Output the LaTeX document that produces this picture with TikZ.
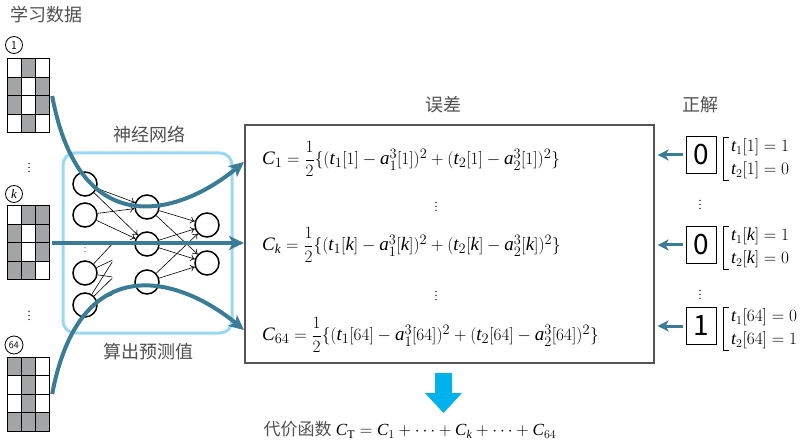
\documentclass[tikz,border=0pt]{standalone}
\usepackage{amsmath}
\usepackage{fontspec}
\setmainfont{Liberation Serif}
\newfontfamily\cjk{Noto Sans CJK SC}
\newfontfamily\digitfont{Noto Sans CJK SC}
\usetikzlibrary{arrows.meta,calc}
\definecolor{teal1}{HTML}{3A7C95}
\definecolor{netblue}{HTML}{99D8F3}
\definecolor{cellgray}{HTML}{A3A4A6}
\definecolor{downblue}{HTML}{00B2EB}
\definecolor{txtgray}{HTML}{505050}
\definecolor{boxgray}{HTML}{555555}
\newcommand\vi[1]{\textit{#1}}
% #1 name, #2 x0, #3 y0, #4 list of 12 cells (1 = gray)
\newcommand\pixgrid[4]{%
  \node[gridbox] (#1) at ({#2+21.5},{#3+37}) {};
  \foreach \v [count=\i from 0] in {#4} {
    \pgfmathtruncatemacro\cc{mod(\i,3)}
    \pgfmathtruncatemacro\rr{div(\i,3)}
    \pgfmathsetmacro\xa{#2+\cc*14.333}
    \pgfmathsetmacro\ya{#3+\rr*18.5}
    \ifnum\v=1
      \draw[gridline, fill=cellgray] (\xa,\ya) rectangle ++(14.333,18.5);
    \else
      \draw[gridline, fill=white] (\xa,\ya) rectangle ++(14.333,18.5);
    \fi
  }
}
\begin{document}
\begin{tikzpicture}[x=1pt,y=-1pt,
  lab/.style={font=\cjk\fontsize{18}{20}\selectfont, text=txtgray, inner sep=0pt},
  gridbox/.style={draw=none, minimum width=43pt, minimum height=74pt, inner sep=0pt},
  gridline/.style={draw=black, line width=1pt},
  circlab/.style={circle, draw=black, line width=0.8pt, minimum size=17pt, inner sep=0pt},
  neuron/.style={circle, draw=black, line width=1.5pt, minimum size=24pt, inner sep=0pt},
  nnedge/.style={line width=0.6pt, -{To[length=4.5pt,width=7pt]}},
  nnstub/.style={line width=0.6pt},
  netbox/.style={draw=netblue, line width=3pt, rounded corners=12pt, minimum width=169pt, minimum height=180pt, inner sep=0pt},
  fbox/.style={draw=boxgray, line width=1.2pt, minimum width=409pt, minimum height=238pt, inner sep=0pt},
  formula/.style={anchor=west, inner sep=0pt, font=\fontsize{19}{21}\selectfont},
  digitbox/.style={draw=black, line width=1pt, minimum width=30pt, minimum height=37pt, inner sep=0pt, font=\digitfont\fontsize{28}{28}\selectfont},
  answer/.style={anchor=west, align=left, inner sep=1pt, font=\fontsize{18}{23}\selectfont},
  bigarrow/.style={draw=teal1, line width=4pt, -{Stealth[length=15pt,width=14pt,inset=4pt]}},
  smallarrow/.style={draw=teal1, line width=3pt, -{Stealth[length=11pt,width=11pt,inset=3pt]}},
  dotsn/.style={inner sep=0pt, font=\fontsize{12}{12}\selectfont}
]
\useasboundingbox (0,0) rectangle (805,443);

% labels
\node[lab] (datalab) at (46,15) {学习数据};
\node[lab] (netlab) at (149,135) {神经网络};
\node[lab] (predlab) at (148,352) {算出预测值};
\node[lab] (errlab) at (443,105) {误差};
\node[lab] (anslab) at (700,105) {正解};

% learning data grids
\node[circlab, font=\sffamily\fontsize{12}{12}\selectfont] (n1) at (14,45) {1};
\pixgrid{g1}{7}{59}{0,1,0,1,0,1,1,0,1,0,1,0}
\node[dotsn] (ld1) at (29,165) {$\vdots$};
\node[circlab, font=\fontsize{13}{13}\selectfont] (nk) at (14,194) {\vi{k}};
\pixgrid{gk}{7}{206}{0,1,1,1,0,1,1,0,1,1,1,0}
\node[dotsn] (ld2) at (29,313) {$\vdots$};
\node[circlab, minimum size=18pt, font=\sffamily\fontsize{10}{10}\selectfont] (n64) at (14,345) {64};
\pixgrid{g64}{7}{357}{1,1,0,0,1,0,0,1,0,1,1,1}

% network
\node[netbox] (net) at (147.5,243) {};
\node[neuron] (i1) at (85,184) {};
\node[neuron] (i2) at (85,215) {};
\node[dotsn, font=\fontsize{8}{8}\selectfont] (idots) at (85,245) {$\vdots$};
\node[neuron] (i4) at (85,273) {};
\node[neuron] (i5) at (85,305) {};
\node[neuron] (h1) at (147,207) {};
\node[neuron] (h2) at (147,244) {};
\node[neuron] (h3) at (147,282) {};
\node[neuron] (o1) at (207,225) {};
\node[neuron] (o2) at (207,263) {};
\foreach \a in {i1,i2} \foreach \b in {h1,h2} \draw[nnedge] (\a) -- (\b);
\foreach \a in {h1,h2,h3} \foreach \b in {o1,o2} \draw[nnedge] (\a) -- (\b);
\foreach \a in {i4,i5} \foreach \b in {h1,h2,h3} \draw[nnstub] (\a) -- ($(\a)!0.44!(\b)$);

% formula box
\node[fbox] (fbox) at (449.5,244) {};
\node[formula] (f1) at (262,159) {$\vi{C}_1=\dfrac{1}{2}\{(\vi{t}_1[1]-\vi{a}_1^3[1])^2+(\vi{t}_2[1]-\vi{a}_2^3[1])^2\}$};
\node[dotsn] (fd1) at (436,204) {$\vdots$};
\node[formula] (fk) at (262,245) {$\vi{C}_{\vi{k}}=\dfrac{1}{2}\{(\vi{t}_1[\vi{k}]-\vi{a}_1^3[\vi{k}])^2+(\vi{t}_2[\vi{k}]-\vi{a}_2^3[\vi{k}])^2\}$};
\node[dotsn] (fd2) at (436,293) {$\vdots$};
\node[formula] (f64) at (262,335) {$\vi{C}_{64}=\dfrac{1}{2}\{(\vi{t}_1[64]-\vi{a}_1^3[64])^2+(\vi{t}_2[64]-\vi{a}_2^3[64])^2\}$};

% big teal arrows
\coordinate (e1) at (244,162);
\coordinate (e2) at (244,243);
\coordinate (e3) at (244,330);
\draw[bigarrow] ([xshift=2pt]g1.east) .. controls (80,245) and (180,215) .. (e1);
\draw[bigarrow] ([xshift=2pt]gk.east) -- (e2);
\draw[bigarrow] ([xshift=2pt]g64.east) .. controls (80,247) and (180,277) .. (e3);

% correct answers
\node[digitbox] (d1) at (701,155) {0};
\node[digitbox] (dk) at (701,245) {0};
\node[digitbox] (d64) at (701,326) {1};
\node[answer] (b1) at (730,159) {$\vi{t}_1[1]=1$\\$\vi{t}_2[1]=0$};
\node[answer] (bk) at (730,248) {$\vi{t}_1[\vi{k}]=1$\\$\vi{t}_2[\vi{k}]=0$};
\node[answer] (b64) at (730,329) {$\vi{t}_1[64]=0$\\$\vi{t}_2[64]=1$};
\foreach \b in {b1,bk,b64}
  \draw[line width=0.8pt] ([xshift=-1pt]\b.north west) -- ([xshift=-7pt]\b.north west) -- ([xshift=-7pt]\b.south west) -- ([xshift=-1pt]\b.south west);
\node[dotsn] (rd1) at (700,202) {$\vdots$};
\node[dotsn] (rd2) at (700,292) {$\vdots$};
\foreach \d in {d1,dk,d64}
  \draw[smallarrow, shorten >=3pt] ([xshift=-3pt]\d.west) -- (\d.west -| fbox.east);

% down arrow and total cost
\fill[downblue] (435,373) -- (452,373) -- (452,393) -- (462,393) -- (443.5,413) -- (425,393) -- (435,393) -- cycle;
\node[inner sep=0pt, font=\fontsize{17}{19}\selectfont] (cost) at (410,430) {{\cjk\color{txtgray}代价函数} $\vi{C}_\mathrm{T}=\vi{C}_1+\cdots+\vi{C}_{\vi{k}}+\cdots+\vi{C}_{64}$};
\end{tikzpicture}
\end{document}
